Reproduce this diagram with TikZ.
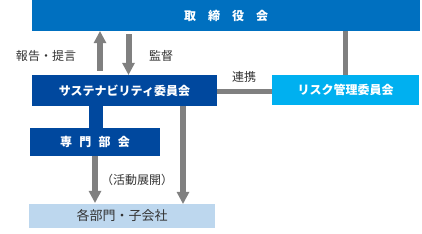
\documentclass[tikz,border=0pt]{standalone}
\usepackage{fontspec}
\setmainfont{Noto Sans CJK JP}
\usetikzlibrary{arrows.meta}
\definecolor{topblue}{RGB}{0,112,192}
\definecolor{darkblue}{RGB}{0,72,158}
\definecolor{skyblue}{RGB}{0,176,240}
\definecolor{paleblue}{RGB}{189,215,238}
\definecolor{arrowgray}{RGB}{128,128,128}
\definecolor{textgray}{RGB}{51,51,51}
\tikzset{
  box/.style={rectangle, inner sep=0pt, font=\fontsize{12}{14}\selectfont\bfseries, text=white},
  lbl/.style={inner sep=0pt, font=\fontsize{12}{14}\selectfont, text=textgray},
  grayarrow/.style={draw=arrowgray, line width=6pt, -{Triangle[width=13pt,length=12pt,line width=0pt]}},
  grayline/.style={draw=arrowgray, line width=5pt},
}
\begin{document}
\begin{tikzpicture}[x=1pt,y=-1pt]
\useasboundingbox (0,0) rectangle (422,233);
\node[box, fill=topblue, minimum width=388pt, minimum height=31pt] (top) at (226,15.5) {取\hspace{1em}締\hspace{1em}役\hspace{1em}会};
\node[box, fill=darkblue, minimum width=185pt, minimum height=31pt] (sus) at (124.5,90.5) {サステナビリティ委員会};
\node[box, fill=skyblue, minimum width=147pt, minimum height=30pt] (risk) at (345.5,90) {リスク管理委員会};
\node[box, fill=darkblue, minimum width=130pt, minimum height=28pt] (sen) at (95,142) {専\hspace{0.6em}門\hspace{0.6em}部\hspace{0.6em}会};
\node[box, fill=paleblue, minimum width=186pt, minimum height=24pt, font=\fontsize{13}{15}\selectfont, text=textgray] (bu) at (122,216) {各部門・子会社};

\coordinate (c1) at (100,0);
\coordinate (c2) at (128.5,0);
\coordinate (c3) at (96,0);
\coordinate (c4) at (95,0);
\coordinate (c5) at (183,0);
\coordinate (c6) at (345,0);

% blue connector
\draw[darkblue, line width=14pt] (c3 |- sus.south) -- (c3 |- sen.north);
% report arrow up
\draw[grayarrow, shorten <=4pt] (c1 |- sus.north) -- (c1 |- top.south);
% supervise arrow down
\draw[grayarrow, shorten <=3pt] (c2 |- top.south) -- (c2 |- sus.north);
% lines
\draw[grayline] (c6 |- top.south) -- (c6 |- risk.north);
\draw[grayline] (sus.east |- 0,91.5) coordinate (l1) -- (l1 -| risk.west);
% down arrows
\draw[grayarrow, shorten >=1pt] (c4 |- sen.south) -- (c4 |- bu.north);
\draw[grayarrow] (c5 |- sus.south) -- (c5 |- bu.north);

\node[lbl] (l_rep) at (46,56) {報告・提言};
\node[lbl] (l_sup) at (161,56) {監督};
\node[lbl] (l_ren) at (244,77) {連携};
\node[lbl] (l_kat) at (137,180) {（活動展開）};
\end{tikzpicture}
\end{document}
